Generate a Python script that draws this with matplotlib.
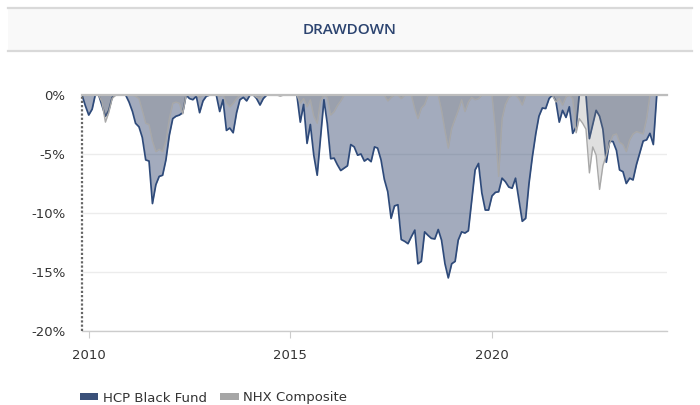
import matplotlib
matplotlib.use('Agg')
import matplotlib.pyplot as plt
import matplotlib.dates as mdates
from matplotlib.patches import Patch, Rectangle
from matplotlib.lines import Line2D
import pandas as pd

plt.rcParams.update({'font.family': 'DejaVu Sans', 'font.size': 9.5})

# monthly drawdown (%) from Nov 2009 to Feb 2024
start_month = '2009-11-01'

hcp_black_fund = [
    0, -0.9,                                                                    # 2009
    -1.7, -1.2, 0, 0, -0.9, -1.8, -1.3, -0.2, 0, 0, 0, 0,                       # 2010
    -0.6, -1.4, -2.4, -2.7, -3.6, -5.5, -5.6, -9.2, -7.6, -6.9, -6.8, -5.5,     # 2011
    -3.4, -2.0, -1.8, -1.7, -1.5, 0, -0.3, -0.4, -0.1, -1.5, -0.5, -0.1,        # 2012
    0, 0, 0, -1.4, -0.4, -3.0, -2.8, -3.2, -1.5, -0.4, -0.2, -0.5,              # 2013
    0, 0, -0.3, -0.85, -0.3, 0, 0, 0, 0, 0, 0, 0,                               # 2014
    0, 0, 0, -2.3, -0.8, -4.1, -2.5, -5.1, -6.8, -3.6, -0.4, -2.4,              # 2015
    -5.4, -5.35, -5.9, -6.4, -6.2, -6.0, -4.2, -4.4, -5.1, -5.0, -5.6, -5.4,    # 2016
    -5.65, -4.4, -4.5, -5.5, -7.15, -8.2, -10.45, -9.4, -9.3, -12.25, -12.4, -12.6,  # 2017
    -12.0, -11.45, -14.3, -14.1, -11.6, -11.9, -12.15, -12.2, -11.4, -12.3, -14.3, -15.5,  # 2018
    -14.3, -14.1, -12.3, -11.6, -11.7, -11.5, -9.0, -6.35, -5.8, -8.3, -9.75, -9.75,  # 2019
    -8.55, -8.25, -8.2, -7.05, -7.35, -7.8, -7.9, -7.05, -8.9, -10.7, -10.45, -7.5,   # 2020
    -5.2, -3.25, -1.8, -1.1, -1.15, -0.3, 0, -0.5, -2.3, -1.3, -1.9, -1.0,      # 2021
    -3.25, -2.7, 0, 0, 0, -3.7, -2.5, -1.3, -1.8, -2.9, -5.7, -3.9,             # 2022
    -3.95, -4.7, -6.35, -6.5, -7.5, -7.05, -7.2, -5.9, -4.9, -3.9, -3.8, -3.25, # 2023
    -4.2, 0,                                                                    # 2024
]

nhx_composite = [
    0, 0,                                                                       # 2009
    0, 0, 0, 0, -0.6, -2.3, -1.5, -0.3, 0, 0, 0, 0,                             # 2010
    0, 0, -0.1, -0.3, -1.3, -2.4, -2.5, -3.9, -4.8, -4.6, -4.8, -3.9,           # 2011
    -2.0, -0.7, -0.6, -0.7, -1.6, 0, 0, 0, 0, -0.2, 0, 0,                       # 2012
    0, 0, 0, -0.1, 0, -0.7, -1.0, -0.7, -0.3, 0, 0, 0,                          # 2013
    0, 0, -0.2, -0.3, 0, 0, 0, 0, 0, -0.1, 0, 0,                                # 2014
    0, 0, 0, -0.7, -0.3, -1.0, -0.4, -1.8, -2.4, -0.5, 0, -0.2,                 # 2015
    -1.7, -1.4, -0.9, -0.5, 0, 0, 0, 0, 0, 0, 0, 0,                             # 2016
    0, 0, 0, 0, 0, -0.5, -0.2, 0, 0, -0.3, 0, 0,                                # 2017
    0, -1.2, -2.0, -1.1, -0.8, 0, 0, 0, 0, -1.3, -3.0, -4.5,                    # 2018
    -2.8, -2.0, -1.3, -0.4, -1.4, -0.6, -0.2, -0.4, -0.3, 0, 0, 0,              # 2019
    0, -3.0, -6.9, -2.0, -0.8, -0.2, 0, 0, -0.3, -0.85, 0, 0,                   # 2020
    0, 0, 0, 0, 0, 0, 0, -0.6, -0.3, -0.85, -0.15, 0,                           # 2021
    -0.3, -3.2, -2.0, -2.4, -2.9, -6.6, -4.4, -5.1, -8.0, -6.0, -5.1, -4.1,     # 2022
    -3.4, -3.3, -4.0, -4.2, -4.8, -3.8, -3.3, -3.1, -3.2, -3.3, -2.0, 0,        # 2023
    0, 0,                                                                       # 2024
]

series_names = ['HCP Black Fund', 'NHX Composite']
y_ticks = [0, -5, -10, -15, -20]
y_tick_labels = ['0%', '-5%', '-10%', '-15%', '-20%']

dates = pd.date_range(start_month, periods=len(hcp_black_fund), freq='MS')

FUND_COLOR = '#33466e'
FUND_LINE = '#2e4a7a'
NHX_COLOR = '#808080'
NHX_LINE = '#a8a8a8'
W, H = 700, 405

fig = plt.figure(figsize=(7, 4.05), dpi=100)

# --- header band with title ---
band = Rectangle((8 / W, 1 - 51 / H), 684 / W, 43 / H, transform=fig.transFigure,
                 facecolor='#f9f9f9', edgecolor='none')
fig.patches.append(band)
for yy in (8, 51):
    fig.add_artist(Line2D([8 / W, 692 / W], [1 - yy / H, 1 - yy / H], transform=fig.transFigure,
                          color='#d9d9d9', lw=1.6))
fig.text(0.5, 1 - 30 / H, 'DRAWDOWN', ha='center', va='center', color='#2c4470',
         fontsize=11, fontweight='semibold', family=['Open Sans', 'DejaVu Sans'])

# --- plot area ---
ax = fig.add_axes([82 / W, (H - 331) / H, (666.7 - 82) / W, (331 - 95) / H])

ax.fill_between(dates, hcp_black_fund, 0, color=FUND_COLOR, alpha=0.45, lw=0, zorder=2)
ax.plot(dates, hcp_black_fund, color=FUND_LINE, lw=1.25, zorder=3)
ax.fill_between(dates, nhx_composite, 0, color=NHX_COLOR, alpha=0.25, lw=0, zorder=4)
ax.plot(dates, nhx_composite, color=NHX_LINE, lw=1.0, zorder=5)

ax.set_ylim(-20, 0)
ax.set_xlim(pd.Timestamp(start_month), pd.Timestamp('2024-05-01'))
ax.set_yticks(y_ticks)
ax.set_yticklabels(y_tick_labels)
ax.xaxis.set_major_locator(mdates.YearLocator(5))
ax.xaxis.set_major_formatter(mdates.DateFormatter('%Y'))

ax.grid(axis='y', color='#ececec', lw=1)
ax.set_axisbelow(True)
ax.tick_params(axis='y', length=0, pad=12, labelcolor='#333333', labelsize=9.5)
ax.tick_params(axis='x', length=5, color='#cccccc', pad=8, labelcolor='#333333', labelsize=9.5)

for side in ('left', 'right'):
    ax.spines[side].set_visible(False)
ax.spines['top'].set_color('#bdbdbd')
ax.spines['top'].set_linewidth(1.6)
ax.spines['top'].set_zorder(6)
ax.spines['bottom'].set_color('#cccccc')
ax.spines['bottom'].set_linewidth(1.0)

# dotted marker at start of the series
ax.axvline(dates[0], color='#666666', lw=1.6, linestyle=(0, (1, 0.9)), zorder=6, clip_on=False)

# --- legend ---
handles = [Patch(facecolor='#3a5079', edgecolor='none', label=series_names[0]),
           Patch(facecolor='#a6a6a6', edgecolor='none', label=series_names[1])]
leg = fig.legend(handles=handles, loc='center left', bbox_to_anchor=(80 / W, 1 - 398 / H),
                 ncol=2, frameon=False, fontsize=9.5, handlelength=1.4, handleheight=0.4,
                 handletextpad=0.35, columnspacing=1.0, borderpad=0, borderaxespad=0)
for t in leg.get_texts():
    t.set_color('#333333')

fig.savefig('out.png', dpi=100)
